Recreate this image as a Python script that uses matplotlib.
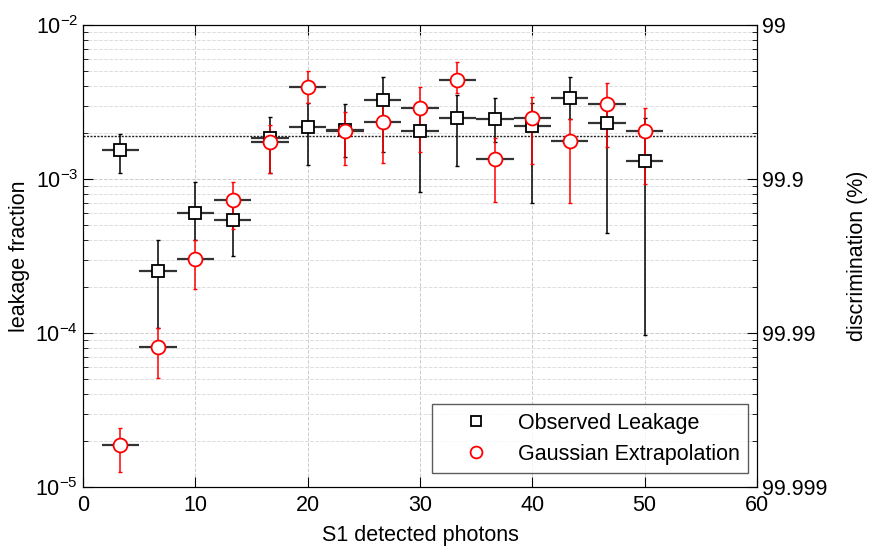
import matplotlib
matplotlib.use("Agg")
import matplotlib.pyplot as plt
from matplotlib.ticker import LogLocator, NullFormatter
import numpy as np

plt.rcParams['font.family'] = ['Liberation Sans', 'DejaVu Sans']
plt.rcParams['mathtext.default'] = 'regular'

# data
s1_bins = [3.33, 6.67, 10.0, 13.33, 16.67, 20.0, 23.33, 26.67, 30.0, 33.33, 36.67, 40.0, 43.33, 46.67, 50.0]
bin_halfwidth = [1.67] * 15

obs_leak = [1.54e-3, 2.53e-4, 6.0e-4, 5.42e-4, 1.85e-3, 2.18e-3, 2.08e-3, 3.26e-3, 2.05e-3,
            2.49e-3, 2.45e-3, 2.21e-3, 3.36e-3, 2.31e-3, 1.31e-3]
obs_hi = [1.96e-3, 4.02e-4, 9.6e-4, 7.3e-4, 2.53e-3, 3.1e-3, 3.07e-3, 4.6e-3, 2.9e-3,
          3.5e-3, 3.36e-3, 3.1e-3, 4.6e-3, 3.3e-3, 2.5e-3]
obs_lo = [1.09e-3, 1.07e-4, 4.0e-4, 3.16e-4, 1.09e-3, 1.23e-3, 1.39e-3, 1.5e-3, 8.2e-4,
          1.21e-3, 1.74e-3, 7.0e-4, 2.45e-3, 4.46e-4, 9.7e-5]

gauss_leak = [1.87e-5, 8.1e-5, 3.03e-4, 7.31e-4, 1.74e-3, 3.96e-3, 2.05e-3, 2.34e-3, 2.89e-3,
              4.39e-3, 1.35e-3, 2.49e-3, 1.77e-3, 3.07e-3, 2.05e-3]
gauss_hi = [2.41e-5, 1.08e-4, 4.0e-4, 9.6e-4, 2.25e-3, 5.02e-3, 2.72e-3, 3.3e-3, 3.96e-3,
            5.75e-3, 1.85e-3, 3.4e-3, 2.45e-3, 4.2e-3, 2.89e-3]
gauss_lo = [1.25e-5, 5.1e-5, 1.93e-4, 4.73e-4, 1.09e-3, 3.12e-3, 1.23e-3, 1.27e-3, 1.5e-3,
            3.6e-3, 7.1e-4, 1.25e-3, 7.0e-4, 1.61e-3, 9.3e-4]

mean_leak = 1.9e-3

y_ticks = [1e-5, 1e-4, 1e-3, 1e-2]
y_ticklabels = ['$10^{-5}$', '$10^{-4}$', '$10^{-3}$', '$10^{-2}$']
right_ticklabels = ['99.999', '99.99', '99.9', '99']
x_ticks = [0, 10, 20, 30, 40, 50, 60]

FS = 15.5

fig = plt.figure(figsize=(8.7, 5.49), dpi=100)
ax = fig.add_axes([0.0954, 0.1129, 0.7747, 0.8416])

x = np.array(s1_bins)
ol = np.array(obs_leak)
gl = np.array(gauss_leak)

# horizontal bin-width bars (no caps)
ax.errorbar(x, ol, xerr=bin_halfwidth, fmt='none', ecolor='#333333', elinewidth=1.6, capsize=0, zorder=3)
ax.errorbar(x, gl, xerr=bin_halfwidth, fmt='none', ecolor='#333333', elinewidth=1.6, capsize=0, zorder=3)
# vertical error bars
ax.errorbar(x, ol, yerr=[ol - np.array(obs_lo), np.array(obs_hi) - ol],
            fmt='none', ecolor='black', elinewidth=1.1, capsize=1.3, zorder=3)
ax.errorbar(x, gl, yerr=[gl - np.array(gauss_lo), np.array(gauss_hi) - gl],
            fmt='none', ecolor='#ff0000', elinewidth=1.1, capsize=1.3, zorder=4)
ax.plot(x, ol, 's', ms=8.5, mfc='white', mec='black', mew=1.3, zorder=5, label='Observed Leakage')
ax.plot(x, gl, 'o', ms=10, mfc='white', mec='#ff0000', mew=1.3, zorder=6, label='Gaussian Extrapolation')

ax.axhline(mean_leak, color='#222222', ls=(0, (1.5, 1)), lw=1.0, zorder=2)

ax.set_yscale('log')
ax.set_xlim(0, 60)
ax.set_ylim(1e-5, 1e-2)
ax.set_xticks(x_ticks)
ax.set_yticks(y_ticks)
ax.set_yticklabels(y_ticklabels)
ax.yaxis.set_minor_locator(LogLocator(base=10, subs=np.arange(2, 10)))
ax.yaxis.set_minor_formatter(NullFormatter())
ax.tick_params(axis='both', which='both', direction='in', labelsize=FS, top=True)
ax.tick_params(axis='y', which='major', length=7)
ax.tick_params(axis='y', which='minor', length=3.5)
ax.tick_params(axis='x', which='major', length=7, pad=6)
ax.grid(True, which='major', axis='both', ls='--', color='#cccccc', lw=0.7)
ax.grid(True, which='minor', axis='y', ls='--', color='#dddddd', lw=0.7)
ax.set_axisbelow(True)
ax.set_xlabel('S1 detected photons', fontsize=FS, labelpad=6)
ax.set_ylabel('leakage fraction', fontsize=FS, labelpad=4)

ax2 = ax.twinx()
ax2.set_yscale('log')
ax2.set_ylim(1e-5, 1e-2)
ax2.set_yticks(y_ticks)
ax2.set_yticklabels(right_ticklabels)
ax2.yaxis.set_minor_locator(LogLocator(base=10, subs=np.arange(2, 10)))
ax2.yaxis.set_minor_formatter(NullFormatter())
ax2.tick_params(axis='y', which='both', direction='in', labelsize=FS)
ax2.tick_params(axis='y', which='major', length=7)
ax2.tick_params(axis='y', which='minor', length=3.5)
ax2.set_ylabel('discrimination (%)', fontsize=FS, labelpad=14)

leg = ax.legend(loc='lower right', fontsize=FS, frameon=True, fancybox=False,
                edgecolor='#333333', markerscale=0.85, borderpad=0.4, handletextpad=0.3,
                handlelength=3.3, labelspacing=0.45, borderaxespad=0,
                bbox_to_anchor=(0.987, 0.03))
leg.get_frame().set_linewidth(1.0)
leg.set_zorder(10)

fig.savefig('out.png', dpi=100)
